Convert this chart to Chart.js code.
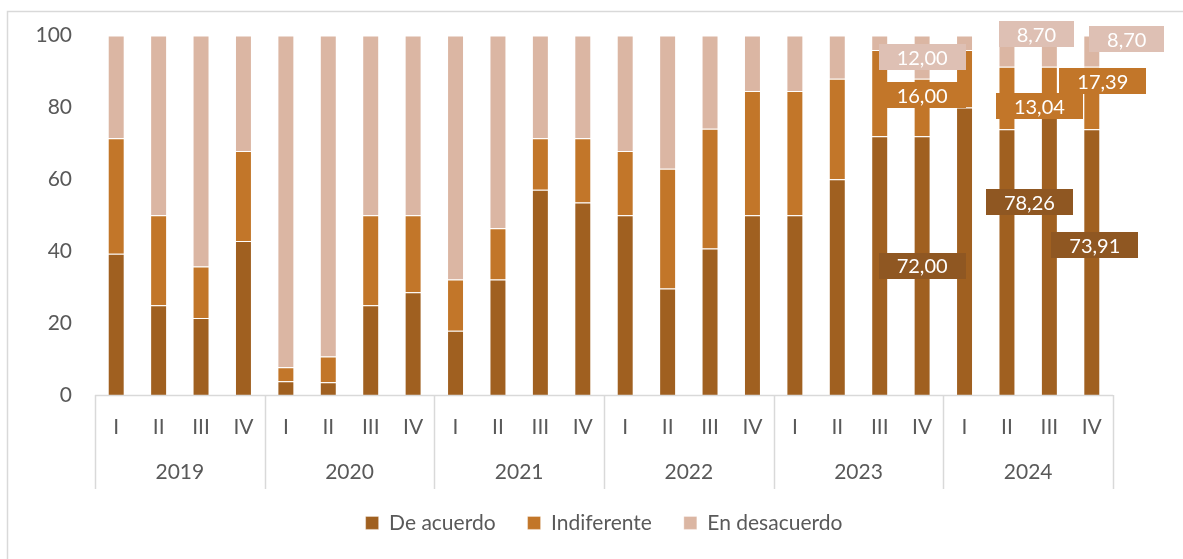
<!DOCTYPE html>
<html>
<head>
<meta charset="utf-8">
<script src="https://cdn.jsdelivr.net/npm/chart.js@4/dist/chart.umd.min.js"></script>
<style>
html,body{margin:0;padding:0;background:#fff;}
#wrap{width:1183px;height:559px;position:relative;}
</style>
</head>
<body>
<div id="wrap"><canvas id="c" width="1183" height="559"></canvas></div>
<script>
// ---- data ----
const years = ['2019', '2020', '2021', '2022', '2023', '2024'];
const quarters = ['I', 'II', 'III', 'IV'];
const deAcuerdo = [39.29, 25, 21.43, 42.86, 3.85, 3.57, 25, 28.57, 17.86, 32.14, 57.14, 53.57,
                   50, 29.63, 40.74, 50, 50, 60, 72, 72, 80, 73.91, 78.26, 73.91];
const indiferente = [32.14, 25, 14.29, 25, 3.85, 7.14, 25, 21.43, 14.29, 14.29, 14.29, 17.86,
                     17.86, 33.33, 33.33, 34.62, 34.62, 28, 24, 16, 16, 17.39, 13.04, 17.39];
const enDesacuerdo = [28.57, 50, 64.29, 32.14, 92.31, 89.29, 50, 50, 67.86, 53.57, 28.57, 28.57,
                      32.14, 37.04, 25.93, 15.38, 15.38, 12, 4, 12, 4, 8.70, 8.70, 8.70];
const yTicks = [0, 20, 40, 60, 80, 100];
const labelledBars = [19, 22, 23];

// ---- styles (kept separate from data) ----
const FONT = 'Lato, "Liberation Sans", sans-serif';
const TEXT = '#595959';
const GRID = '#D9D9D9';
const barColors = ['#A06020', '#C27629', '#DBB6A3'];
const labelBg = ['#8F5722', '#C27629', '#DEC0B4'];
// pixel nudges of the moved data labels, per bar index: [deAcuerdo, indiferente, enDesacuerdo]
const labelNudge = {
  19: [[0, 0], [0, -12], [0, 0]],
  22: [[-20, -52], [-10, 16], [-13, -17]],
  23: [[3, -17], [11, -17], [35, -12]]
};

const categoryLabels = years.flatMap(() => quarters.slice());

const frameAndYears = {
  id: 'frameAndYears',
  beforeDraw(chart) {
    const ctx = chart.ctx;
    ctx.save();
    ctx.strokeStyle = GRID;
    ctx.lineWidth = 1.5;
    ctx.beginPath();
    ctx.moveTo(7.5, 600);
    ctx.lineTo(7.5, 11.5);
    ctx.lineTo(1200, 11.5);
    ctx.stroke();
    ctx.restore();
  },
  afterDraw(chart) {
    const ctx = chart.ctx;
    const x = chart.scales.x;
    const bottom = chart.chartArea.bottom;
    const step = x.getPixelForValue(1) - x.getPixelForValue(0);
    ctx.save();
    ctx.strokeStyle = GRID;
    ctx.lineWidth = 1.5;
    ctx.beginPath();
    ctx.moveTo(x.left, bottom + 0.5);
    ctx.lineTo(x.right, bottom + 0.5);
    for (let i = 0; i <= years.length; i++) {
      const px = Math.round(x.getPixelForValue(i * 4) - step / 2) + 0.5;
      ctx.moveTo(px, bottom);
      ctx.lineTo(px, bottom + 94);
    }
    ctx.stroke();
    ctx.fillStyle = TEXT;
    ctx.font = '21px ' + FONT;
    ctx.textAlign = 'center';
    ctx.textBaseline = 'middle';
    years.forEach((y, i) => {
      const cx = (x.getPixelForValue(i * 4) + x.getPixelForValue(i * 4 + 3)) / 2;
      ctx.fillText(y, cx, bottom + 77);
    });
    ctx.restore();
  }
};

const boxLabels = {
  id: 'boxLabels',
  afterDatasetsDraw(chart) {
    const ctx = chart.ctx;
    ctx.save();
    ctx.font = '20px ' + FONT;
    ctx.textAlign = 'center';
    ctx.textBaseline = 'middle';
    chart.data.datasets.forEach((ds, di) => {
      const meta = chart.getDatasetMeta(di);
      labelledBars.forEach(idx => {
        const el = meta.data[idx];
        const v = ds.data[idx];
        const txt = v.toFixed(2).replace('.', ',');
        const nudge = (labelNudge[idx] || [])[di] || [0, 0];
        const cx = el.x + nudge[0];
        const cy = (el.y + el.base) / 2 + nudge[1];
        const w = ctx.measureText(txt).width + 36;
        const h = 26;
        ctx.fillStyle = labelBg[di];
        ctx.fillRect(Math.round(cx - w / 2), Math.round(cy - h / 2), Math.round(w), h);
        ctx.fillStyle = '#FFFFFF';
        ctx.fillText(txt, cx, cy + 1);
      });
    });
    ctx.restore();
  }
};

const legendHeight = {
  id: 'legendHeight',
  beforeInit(chart) {
    const lg = chart.legend;
    if (!lg) return;
    const fit = lg.fit;
    lg.fit = function () {
      fit.call(this);
      this.height = 70;
    };
  }
};

new Chart(document.getElementById('c'), {
  type: 'bar',
  data: {
    labels: categoryLabels,
    datasets: [
      { label: 'De acuerdo', data: deAcuerdo, backgroundColor: barColors[0] },
      { label: 'Indiferente', data: indiferente, backgroundColor: barColors[1] },
      { label: 'En desacuerdo', data: enDesacuerdo, backgroundColor: barColors[2] }
    ].map(d => Object.assign(d, {
      borderColor: 'rgba(255,255,255,0.35)',
      borderWidth: 1,
      barPercentage: 0.4,
      categoryPercentage: 1
    }))
  },
  options: {
    responsive: false,
    animation: false,
    devicePixelRatio: 1,
    layout: { padding: { left: 10, right: 70, top: 35, bottom: 8.6 } },
    scales: {
      x: {
        stacked: true,
        grid: { display: false, drawTicks: false },
        border: { display: false },
        ticks: { color: TEXT, font: { family: FONT, size: 21 }, padding: 20, autoSkip: false, maxRotation: 0 },
        afterFit(s) { s.height = 85.4; }
      },
      y: {
        stacked: true,
        min: 0,
        max: 100,
        grid: { display: false, drawTicks: false },
        border: { display: false },
        afterBuildTicks(s) { s.ticks = yTicks.map(v => ({ value: v })); },
        ticks: { color: TEXT, font: { family: FONT, size: 21 }, padding: 23 },
        afterFit(s) { s.width = 85; }
      }
    },
    plugins: {
      legend: {
        position: 'bottom',
        fullSize: false,
        labels: {
          color: TEXT,
          font: { family: FONT, size: 21 },
          boxWidth: 13,
          boxHeight: 13,
          padding: 32
        }
      },
      tooltip: { enabled: false }
    }
  },
  plugins: [frameAndYears, boxLabels, legendHeight]
});
</script>
</body>
</html>
